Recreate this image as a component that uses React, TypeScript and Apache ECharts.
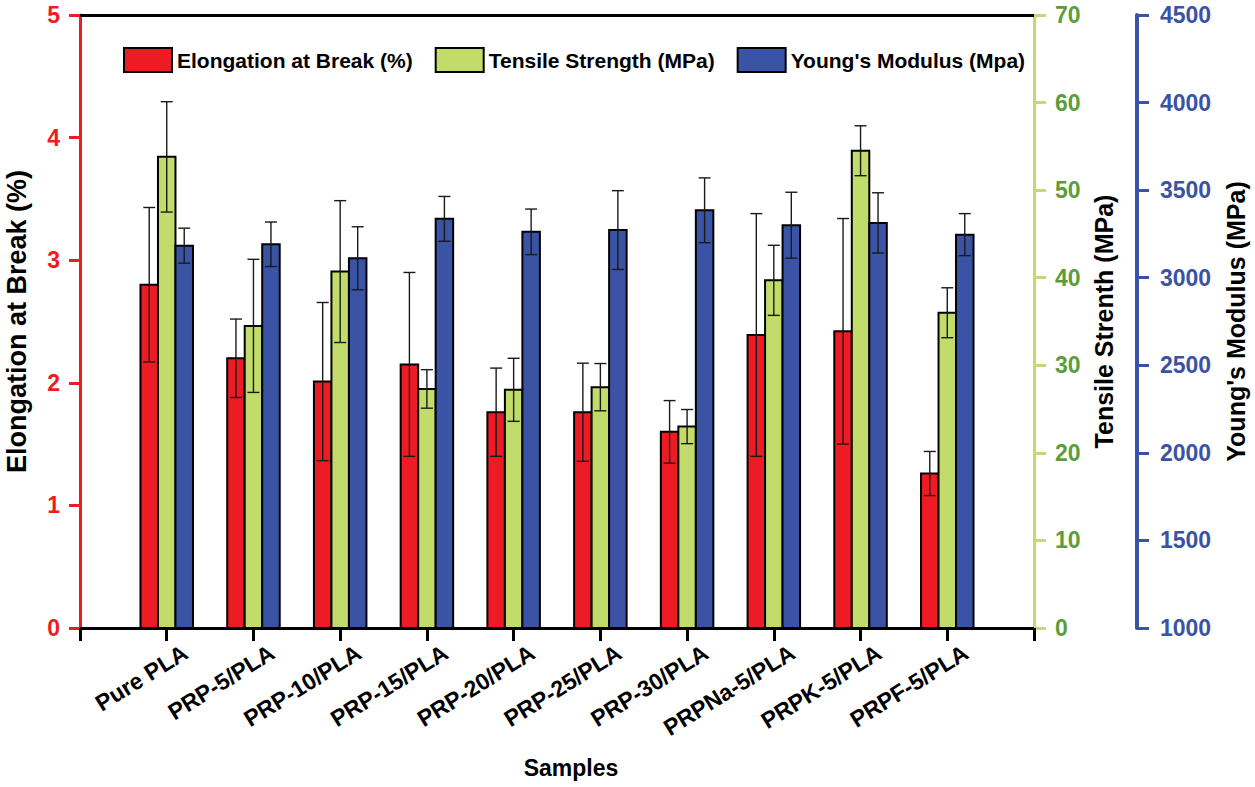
import React, { useEffect, useRef } from "react";
import * as echarts from "echarts";

const categories = [
  "Pure PLA",
  "PRP-5/PLA",
  "PRP-10/PLA",
  "PRP-15/PLA",
  "PRP-20/PLA",
  "PRP-25/PLA",
  "PRP-30/PLA",
  "PRPNa-5/PLA",
  "PRPK-5/PLA",
  "PRPF-5/PLA",
];
const elongation = [2.8, 2.2, 2.01, 2.15, 1.76, 1.76, 1.6, 2.39, 2.42, 1.26];
const elongationErr = [0.63, 0.32, 0.645, 0.75, 0.36, 0.4, 0.255, 0.99, 0.92, 0.18];
const tensile = [53.8, 34.5, 40.7, 27.3, 27.2, 27.5, 23.0, 39.7, 54.5, 36.0];
const tensileErr = [6.3, 7.6, 8.1, 2.2, 3.6, 2.7, 1.95, 4.0, 2.85, 2.85];
const modulus = [3183, 3191, 3111, 3336, 3262, 3272, 3385, 3300, 3313, 3246];
const modulusErr = [100, 127, 180, 128, 130, 225, 185, 188, 172, 120];

const seriesNames = [
  "Elongation at Break (%)",
  "Tensile Strength (MPa)",
  "Young's Modulus (Mpa)",
];

const FONT = "'Liberation Sans', Arial, Helvetica, sans-serif";
const RED = "#ed1c24";
const GREEN = "#c1dc6b";
const GREEN_TXT = "#5b9d38";
const BLUE = "#3a53a4";

// axis categories padded with empty slots at both ends
const axisCats = ["", ...categories, ""];

function makeRender(offset: number, base: number, fill: string) {
  const w = 17.5;
  const cap = 12;
  return (params: any, api: any) => {
    const idx = api.value(0);
    const v = api.value(1);
    const e = api.value(2);
    const top = api.coord([idx, v]);
    const bottom = api.coord([idx, base]);
    const hi = api.coord([idx, v + e]);
    const lo = api.coord([idx, v - e]);
    const cx = top[0] + offset;
    const errStyle = { stroke: "#1a1a1a", lineWidth: 1.4 };
    return {
      type: "group",
      children: [
        {
          type: "rect",
          shape: { x: cx - w / 2, y: top[1], width: w, height: bottom[1] - top[1] },
          style: { fill, stroke: "#000", lineWidth: 2 },
        },
        { type: "line", shape: { x1: cx, y1: lo[1], x2: cx, y2: hi[1] }, style: errStyle },
        { type: "line", shape: { x1: cx - cap / 2, y1: hi[1], x2: cx + cap / 2, y2: hi[1] }, style: errStyle },
        { type: "line", shape: { x1: cx - cap / 2, y1: lo[1], x2: cx + cap / 2, y2: lo[1] }, style: errStyle },
      ],
    };
  };
}

export default function App() {
  const ref = useRef<HTMLDivElement>(null);
  useEffect(() => {
    if (!ref.current) return;
    const chart = echarts.init(ref.current, null, { renderer: "svg" });
    const mk = (vals: number[], errs: number[]) =>
      vals.map((v, i) => [i + 1, v, errs[i]]);
    const plain = (v: number) => String(v);
    const option: any = {
      animation: false,
      backgroundColor: "#ffffff",
      textStyle: { fontFamily: FONT },
      grid: {
        left: 80,
        right: 221,
        top: 15,
        bottom: 159,
        containLabel: false,
        outerBoundsMode: "none",
      },
      legend: {
        left: 123,
        top: 47,
        padding: 0,
        itemWidth: 48,
        itemHeight: 24,
        itemGap: 22,
        textStyle: { fontSize: 21, fontWeight: "bold", color: "#000", fontFamily: FONT },
        data: [
          { name: seriesNames[0], icon: "rect", itemStyle: { color: RED, borderColor: "#000", borderWidth: 2 } },
          { name: seriesNames[1], icon: "rect", itemStyle: { color: GREEN, borderColor: "#000", borderWidth: 2 } },
          { name: seriesNames[2], icon: "rect", itemStyle: { color: BLUE, borderColor: "#000", borderWidth: 2 } },
        ],
      },
      xAxis: [
        {
          type: "category",
          data: axisCats,
          boundaryGap: false,
          position: "bottom",
          name: "Samples",
          nameLocation: "middle",
          nameGap: 128,
          nameTextStyle: { fontSize: 23, fontWeight: "bold", color: "#000", fontFamily: FONT, padding: [0, 0, 0, 28] },
          axisLine: { onZero: false, lineStyle: { color: "#000", width: 3 } },
          axisTick: { show: true, interval: 0, length: 13, lineStyle: { color: "#000", width: 3 } },
          axisLabel: {
            interval: 0,
            rotate: 32,
            margin: 34,
            padding: [0, -22, 0, 0],
            fontSize: 23,
            fontWeight: "bold",
            color: "#000",
            fontFamily: FONT,
          },
          splitLine: { show: false },
        },
        {
          type: "category",
          data: axisCats,
          boundaryGap: false,
          position: "top",
          axisLine: { onZero: false, lineStyle: { color: "#000", width: 3 } },
          axisTick: { show: false },
          axisLabel: { show: false },
          splitLine: { show: false },
        },
      ],
      yAxis: [
        {
          type: "value",
          position: "left",
          min: 0,
          max: 5,
          interval: 1,
          name: "Elongation at Break (%)",
          nameLocation: "middle",
          nameRotate: 90,
          nameGap: 50,
          nameTextStyle: { fontSize: 27, fontWeight: "bold", color: "#000", fontFamily: FONT },
          axisLine: { show: true, onZero: false, lineStyle: { color: RED, width: 3 } },
          axisTick: { show: true, length: 11, lineStyle: { color: RED, width: 3 } },
          axisLabel: { margin: 20, fontSize: 23, fontWeight: "bold", color: RED, fontFamily: FONT, formatter: plain },
          splitLine: { show: false },
        },
        {
          type: "value",
          position: "right",
          min: 0,
          max: 70,
          interval: 10,
          name: "Tensile Strenth (MPa)",
          nameLocation: "middle",
          nameRotate: 90,
          nameGap: 45,
          nameTextStyle: { fontSize: 25, fontWeight: "bold", color: "#000", fontFamily: FONT },
          axisLine: { show: true, onZero: false, lineStyle: { color: GREEN, width: 3 } },
          axisTick: { show: true, length: 12, lineStyle: { color: GREEN, width: 3 } },
          axisLabel: { margin: 21, fontSize: 23, fontWeight: "bold", color: GREEN_TXT, fontFamily: FONT, formatter: plain },
          splitLine: { show: false },
        },
        {
          type: "value",
          position: "right",
          offset: 103,
          min: 1000,
          max: 4500,
          interval: 500,
          name: "Young's Modulus (MPa)",
          nameLocation: "middle",
          nameRotate: 90,
          nameGap: 86,
          nameTextStyle: { fontSize: 25, fontWeight: "bold", color: "#000", fontFamily: FONT },
          axisLine: { show: true, onZero: false, lineStyle: { color: BLUE, width: 4 } },
          axisTick: { show: true, length: 12, lineStyle: { color: BLUE, width: 3 } },
          axisLabel: { margin: 23, fontSize: 23, fontWeight: "bold", color: BLUE, fontFamily: FONT, formatter: plain },
          splitLine: { show: false },
        },
      ],
      series: [
        {
          name: seriesNames[0],
          type: "custom",
          xAxisIndex: 0,
          yAxisIndex: 0,
          itemStyle: { color: RED, borderColor: "#000", borderWidth: 2 },
          encode: { x: 0, y: 1 },
          data: mk(elongation, elongationErr),
          renderItem: makeRender(-17.5, 0, RED),
          z: 3,
        },
        {
          name: seriesNames[1],
          type: "custom",
          xAxisIndex: 0,
          yAxisIndex: 1,
          itemStyle: { color: GREEN, borderColor: "#000", borderWidth: 2 },
          encode: { x: 0, y: 1 },
          data: mk(tensile, tensileErr),
          renderItem: makeRender(0, 0, GREEN),
          z: 3,
        },
        {
          name: seriesNames[2],
          type: "custom",
          xAxisIndex: 0,
          yAxisIndex: 2,
          itemStyle: { color: BLUE, borderColor: "#000", borderWidth: 2 },
          encode: { x: 0, y: 1 },
          data: mk(modulus, modulusErr),
          renderItem: makeRender(17.5, 1000, BLUE),
          z: 3,
        },
      ],
    };
    chart.setOption(option);
    return () => chart.dispose();
  }, []);
  return (
    <div
      ref={ref}
      style={{ position: "fixed", left: 0, top: 0, width: 1255, height: 787, background: "#fff" }}
    />
  );
}
